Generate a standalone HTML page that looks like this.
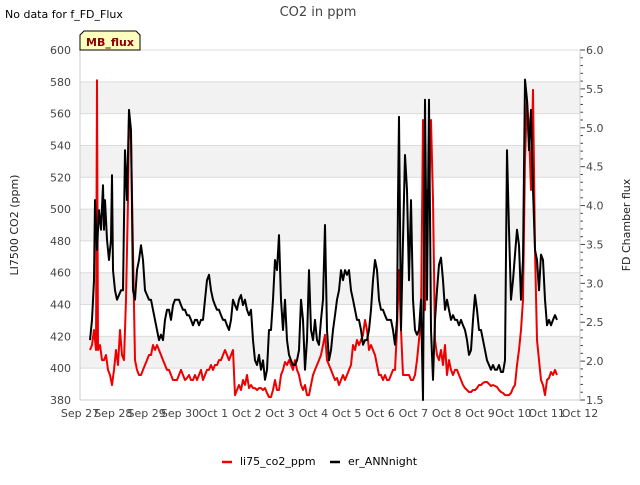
<!DOCTYPE html>
<html><head><meta charset="utf-8"><style>
body{margin:0;background:#fff;font-family:"Liberation Sans","DejaVu Sans",sans-serif}
svg text{font-family:"DejaVu Sans","Liberation Sans",sans-serif}
</style></head><body>
<svg id="chart" width="640" height="480" xmlns="http://www.w3.org/2000/svg">
<text x="318" y="16" text-anchor="middle" font-size="13" fill="#444">CO2 in ppm</text>
<text x="5" y="18" font-size="11" fill="#000">No data for f_FD_Flux</text>
<g id="plot"></g>
<g>
<path d="M80,50 L80,35 L84,31 L136,31 L140,35 L140,50 Z" fill="#ffffc0" stroke="#000" stroke-width="1"/>
<text x="110" y="46" text-anchor="middle" font-size="11" font-weight="bold" fill="#8b0000">MB_flux</text></g>
<text transform="translate(18,225) rotate(-90)" text-anchor="middle" font-size="11" fill="#222">LI7500 CO2 (ppm)</text>
<text transform="translate(630,225) rotate(-90)" text-anchor="middle" font-size="11" fill="#222">FD Chamber flux</text>
<g>
<g><line x1="222" y1="462" x2="232" y2="462" stroke="#e00" stroke-width="2.5"/><text x="240" y="465" font-size="11">li75_co2_ppm</text></g>
<g><line x1="330" y1="462" x2="340" y2="462" stroke="#000" stroke-width="2.5"/><text x="348" y="465" font-size="11">er_ANNnight</text></g>
</g>
</svg>
<script>
const xTickLabels=["Sep 27","Sep 28","Sep 29","Sep 30","Oct 1","Oct 2","Oct 3","Oct 4","Oct 5","Oct 6","Oct 7","Oct 8","Oct 9","Oct 10","Oct 11","Oct 12"];
const leftTicks=[380,400,420,440,460,480,500,520,540,560,580,600];
const rightTicks=[1.5,2.0,2.5,3.0,3.5,4.0,4.5,5.0,5.5,6.0];
const blackT=[0.30,0.36,0.42,0.45,0.51,0.57,0.63,0.69,0.72,0.75,0.81,0.87,0.93,0.96,0.99,1.05,1.11,1.17,1.23,1.29,1.35,1.41,1.47,1.53,1.59,1.65,1.71,1.77,1.83,1.89,1.95,2.01,2.07,2.13,2.19,2.25,2.31,2.37,2.43,2.49,2.55,2.61,2.67,2.73,2.79,2.85,2.91,2.97,3.03,3.09,3.15,3.21,3.27,3.33,3.39,3.45,3.51,3.57,3.63,3.69,3.75,3.81,3.87,3.93,3.99,4.05,4.11,4.17,4.23,4.29,4.35,4.41,4.47,4.53,4.59,4.65,4.71,4.77,4.83,4.89,4.95,5.01,5.07,5.13,5.19,5.25,5.31,5.37,5.43,5.49,5.55,5.61,5.67,5.73,5.79,5.85,5.91,5.97,6.03,6.09,6.15,6.21,6.27,6.33,6.39,6.45,6.51,6.57,6.63,6.69,6.75,6.81,6.87,6.93,6.99,7.05,7.11,7.17,7.23,7.29,7.35,7.41,7.47,7.53,7.59,7.65,7.71,7.77,7.83,7.89,7.95,8.01,8.07,8.13,8.19,8.25,8.31,8.37,8.43,8.49,8.55,8.61,8.67,8.73,8.79,8.85,8.91,8.97,9.03,9.09,9.15,9.21,9.27,9.33,9.39,9.45,9.51,9.54,9.57,9.63,9.69,9.75,9.81,9.87,9.93,9.99,10.05,10.11,10.17,10.23,10.29,10.35,10.41,10.47,10.53,10.59,10.65,10.71,10.77,10.83,10.89,10.95,11.01,11.07,11.13,11.19,11.25,11.31,11.37,11.43,11.49,11.55,11.61,11.67,11.73,11.79,11.85,11.91,11.97,12.03,12.09,12.15,12.21,12.27,12.33,12.39,12.45,12.51,12.57,12.63,12.69,12.75,12.81,12.87,12.93,12.99,13.05,13.11,13.17,13.23,13.29,13.35,13.41,13.47,13.53,13.59,13.65,13.71,13.77,13.83,13.89,13.95,14.01,14.07,14.13,14.19,14.25,14.31];
const blackV=[2.27,2.53,3.04,4.07,3.43,3.94,3.69,4.26,3.69,4.07,3.56,3.30,3.56,4.39,3.17,2.91,2.79,2.85,2.91,2.91,4.71,4.07,5.23,4.97,2.91,2.79,3.17,3.30,3.49,3.30,2.91,2.85,2.79,2.79,2.66,2.53,2.40,2.27,2.34,2.27,2.53,2.66,2.66,2.53,2.72,2.79,2.79,2.79,2.72,2.66,2.66,2.59,2.59,2.53,2.46,2.53,2.53,2.46,2.53,2.53,2.79,3.04,3.11,2.91,2.79,2.72,2.66,2.66,2.59,2.53,2.53,2.46,2.40,2.53,2.79,2.72,2.66,2.79,2.85,2.72,2.79,2.66,2.59,2.66,2.27,2.01,1.95,2.08,1.89,2.01,1.76,1.89,2.40,2.40,2.79,3.30,3.17,3.62,2.79,2.40,2.79,2.27,2.08,2.01,1.95,1.95,2.01,2.14,2.79,2.53,1.89,2.27,3.17,2.40,2.27,2.53,2.27,2.21,2.53,2.79,3.75,2.40,2.01,2.14,2.40,2.59,2.79,2.91,3.17,3.04,3.17,3.11,3.17,2.91,2.79,2.66,2.53,2.53,2.40,2.21,2.27,2.27,2.40,2.66,3.04,3.30,3.17,2.79,2.66,2.66,2.59,2.53,2.53,2.53,2.40,2.21,2.53,4.07,5.14,2.40,3.56,4.65,4.20,3.04,4.07,2.79,2.40,2.34,2.40,2.79,1.50,5.36,2.79,5.36,2.40,1.76,2.53,2.91,3.24,3.33,3.04,2.66,2.79,2.66,2.53,2.59,2.53,2.53,2.46,2.53,2.46,2.40,2.27,2.08,2.14,2.53,2.85,2.66,2.40,2.40,2.27,2.14,2.01,1.95,1.89,1.95,1.89,1.89,1.95,1.86,1.86,2.01,4.71,3.69,2.79,3.04,3.37,3.69,3.49,2.79,3.30,5.62,5.36,4.71,5.23,4.20,3.43,3.30,2.91,3.37,3.30,2.79,2.46,2.53,2.46,2.53,2.59,2.53];
const redT=[0.30,0.36,0.42,0.48,0.51,0.54,0.60,0.66,0.72,0.78,0.84,0.90,0.96,1.02,1.08,1.14,1.20,1.26,1.32,1.38,1.44,1.47,1.53,1.59,1.65,1.71,1.77,1.83,1.89,1.95,2.01,2.07,2.13,2.19,2.25,2.31,2.37,2.43,2.49,2.55,2.61,2.67,2.73,2.79,2.85,2.91,2.97,3.03,3.09,3.15,3.21,3.27,3.33,3.39,3.45,3.51,3.57,3.63,3.69,3.75,3.81,3.87,3.93,3.99,4.05,4.11,4.17,4.23,4.29,4.35,4.41,4.47,4.53,4.59,4.65,4.71,4.77,4.83,4.89,4.95,5.01,5.07,5.13,5.19,5.25,5.31,5.37,5.43,5.49,5.55,5.61,5.67,5.73,5.79,5.85,5.91,5.97,6.03,6.09,6.15,6.21,6.27,6.33,6.39,6.45,6.51,6.57,6.63,6.69,6.75,6.81,6.87,6.93,6.99,7.05,7.11,7.17,7.23,7.29,7.35,7.41,7.47,7.53,7.59,7.65,7.71,7.77,7.83,7.89,7.95,8.01,8.07,8.13,8.19,8.25,8.31,8.37,8.43,8.49,8.55,8.61,8.67,8.73,8.79,8.85,8.91,8.97,9.03,9.09,9.15,9.21,9.27,9.33,9.39,9.45,9.51,9.57,9.63,9.69,9.75,9.81,9.87,9.93,9.99,10.05,10.11,10.17,10.23,10.29,10.35,10.41,10.47,10.53,10.59,10.65,10.71,10.77,10.83,10.89,10.95,11.01,11.07,11.13,11.19,11.25,11.31,11.37,11.43,11.49,11.55,11.61,11.67,11.73,11.79,11.85,11.91,11.97,12.03,12.09,12.15,12.21,12.27,12.33,12.39,12.45,12.51,12.57,12.63,12.69,12.75,12.81,12.87,12.93,12.99,13.05,13.11,13.17,13.23,13.29,13.35,13.41,13.47,13.53,13.59,13.65,13.71,13.77,13.83,13.89,13.95,14.01,14.07,14.13,14.19,14.25,14.31];
const redV=[411.4,414.6,424.0,411.4,581.0,411.4,414.6,405.1,405.1,408.3,398.9,395.7,389.4,398.9,411.4,402.0,424.0,408.3,405.1,442.9,505.7,559.1,543.4,474.3,405.1,398.9,395.7,395.7,398.9,402.0,405.1,408.3,408.3,414.6,411.4,414.6,411.4,408.3,405.1,402.0,398.9,398.9,395.7,392.6,392.6,392.6,395.7,398.9,395.7,392.6,393.8,395.7,392.6,392.6,395.7,392.6,395.7,398.9,392.6,395.7,398.9,398.9,402.0,398.9,402.0,402.0,405.1,405.1,408.3,411.4,408.3,405.1,408.3,411.4,383.1,386.3,389.4,386.3,392.6,389.4,395.7,387.5,389.4,387.5,387.5,386.3,387.5,387.5,386.3,387.5,384.4,381.9,381.9,386.3,392.6,386.3,386.3,395.7,398.9,403.9,402.0,405.1,402.0,398.9,405.1,398.9,395.7,389.4,386.3,389.4,383.1,383.1,389.4,395.7,398.9,402.0,405.1,408.3,414.6,420.9,405.1,402.0,398.9,395.7,392.6,393.8,389.4,392.6,395.7,392.6,395.7,398.9,402.0,414.6,411.4,417.7,414.6,417.7,420.9,430.3,424.0,411.4,414.6,411.4,408.3,402.0,395.7,395.7,392.6,395.7,392.6,392.6,395.7,398.9,398.9,424.0,461.7,424.0,395.7,395.7,395.7,395.7,392.6,392.6,395.7,405.1,417.7,430.3,556.0,436.6,512.0,505.7,556.0,505.7,417.7,408.3,405.1,411.4,402.0,414.6,395.7,405.1,398.9,395.7,398.9,398.9,395.7,392.6,389.4,387.5,386.3,385.0,385.0,386.3,386.3,387.5,389.4,389.4,390.7,391.3,391.3,390.1,388.8,389.4,388.8,388.2,386.3,385.0,384.4,383.1,383.1,383.1,384.4,387.5,389.4,402.0,411.4,424.0,442.9,530.9,568.6,549.7,512.0,574.9,474.3,417.7,405.1,392.6,389.4,383.1,392.6,393.8,397.6,395.7,398.9,395.7];

const NS="http://www.w3.org/2000/svg";
const L=80,R=580,T=50,B=400;
const xs=d=>L+(R-L)*d/15;
const yl=v=>B-(B-T)*(v-380)/220;
const yr=v=>B-(B-T)*(v-1.5)/4.5;
const plot=document.getElementById('plot');
function mk(tag,attrs,parent){const e=document.createElementNS(NS,tag);for(const k in attrs)e.setAttribute(k,attrs[k]);(parent||plot).appendChild(e);return e;}
for(let i=0;i<leftTicks.length-1;i++){
  if(i%2===1){const b=mk('rect',{x:L,y:yl(leftTicks[i+1]),width:R-L,height:yl(leftTicks[i])-yl(leftTicks[i+1]),fill:'#f2f2f2'});
  
  }
}
leftTicks.forEach(v=>{
  const g=mk('line',{x1:L,x2:R,y1:yl(v),y2:yl(v),stroke:'#dcdcdc','stroke-width':1});
  
  
  const t=mk('text',{x:L-9,y:yl(v)+4,'text-anchor':'end','font-size':11,fill:'#444'});
  t.textContent=v;
  
  
});
rightTicks.forEach(v=>{
  const t=mk('text',{x:R+6,y:yr(v)+4,'font-size':11,fill:'#444'});
  t.textContent=v.toFixed(1);
  
  
});
for(let v=1.5;v<=6.001;v+=0.1){mk('line',{x1:R,x2:R+(Math.abs(v*2-Math.round(v*2))<0.01?5:3),y1:yr(v),y2:yr(v),stroke:'#444','stroke-width':1});}
xTickLabels.forEach((s,i)=>{
  const t=mk('text',{x:xs(i),y:417,'text-anchor':'middle','font-size':11,fill:'#444'});
  t.textContent=s;
  
  
});
mk('line',{x1:L,x2:L,y1:T,y2:B,stroke:'#ccc'});
mk('line',{x1:R,x2:R,y1:T,y2:B,stroke:'#ccc'});
mk('line',{x1:L,x2:R,y1:B,y2:B,stroke:'#ccc'});
const pr=mk('polyline',{points:redT.map((t,i)=>xs(t).toFixed(1)+','+yl(redV[i]).toFixed(1)).join(' '),fill:'none',stroke:'#e00','stroke-width':2,'stroke-linejoin':'round'});


const pb=mk('polyline',{points:blackT.map((t,i)=>xs(t).toFixed(1)+','+yr(blackV[i]).toFixed(1)).join(' '),fill:'none',stroke:'#000','stroke-width':2,'stroke-linejoin':'round'});


</script>
</body></html>
